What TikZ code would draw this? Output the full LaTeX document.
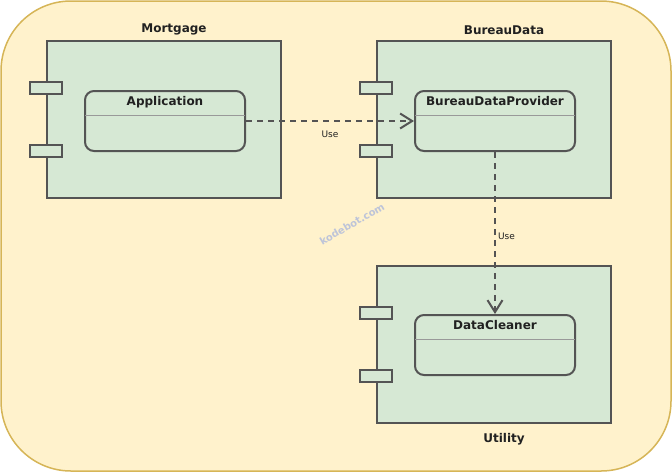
\documentclass[tikz,border=0pt]{standalone}
\usepackage{fontspec}
\setmainfont{DejaVu Sans}
\usepackage{pgf,tikz}
\usetikzlibrary{arrows.meta,positioning}
\definecolor{fff2cc}{rgb}{1,0.95,0.8}
\definecolor{d6b656}{rgb}{0.84,0.71,0.34}
\definecolor{d5e8d4}{rgb}{0.84,0.91,0.83}
\definecolor{qqqqgr}{rgb}{0.33,0.33,0.33}
\definecolor{qqtext}{rgb}{0.13,0.13,0.13}
\definecolor{sepgr}{rgb}{0.6,0.6,0.6}
\definecolor{wmblue}{rgb}{0.74,0.77,0.85}

\begin{document}
\begin{tikzpicture}[line cap=round,line join=round,>={Straight Barb[length=12pt,width=15pt]},x=1pt,y=-1pt,
  comp/.style={draw=qqqqgr,fill=d5e8d4,line width=2pt,line cap=butt,line join=miter,minimum width=234pt,minimum height=157pt,inner sep=0pt},
  port/.style={draw=qqqqgr,fill=d5e8d4,line width=2pt,line cap=butt,line join=miter,minimum width=32pt,minimum height=12pt,inner sep=0pt},
  cls/.style={draw=qqqqgr,fill=d5e8d4,line width=2pt,rounded corners=9pt,minimum width=160pt,minimum height=60pt,inner sep=0pt},
  ctitle/.style={font=\fontsize{12}{14}\selectfont\bfseries,text=qqtext,inner sep=0pt},
  sep/.style={draw=sepgr,line width=0.8pt,line cap=butt},
  use/.style={->,draw=qqqqgr,line width=2pt,line cap=butt,dash pattern=on 6pt off 5pt},
  uselbl/.style={font=\fontsize{9}{10}\selectfont,text=qqtext,inner sep=0pt}]
      \useasboundingbox (0,0) rectangle (672,472);
      \draw [draw=d6b656,fill=fff2cc,line width=1.5pt,rounded corners=70pt] (1,1) rectangle (671,471);
      % components
      \node[comp] (mortgage) at (164,119.5) {};
      \node[comp] (bureau) at (494,119.5) {};
      \node[comp] (utility) at (494,344) {};
      \foreach \c in {mortgage,bureau,utility}
      {
        \node[port] (\c-p1) at ([yshift=31.5pt]\c.west) {};
        \node[port] (\c-p2) at ([yshift=-31.5pt]\c.west) {};
      }
      \node[ctitle,above=5pt of mortgage.north,xshift=10pt] (mortgagetxt) {Mortgage};
      \node[ctitle,above=5pt of bureau.north,xshift=10pt] (bureautxt) {BureauData};
      \node[ctitle,below=10pt of utility.south,xshift=10pt] (utilitytxt) {Utility};
      % classes
      \node[cls] (app) at (165,121) {};
      \node[cls] (bdp) at (495,121) {};
      \node[cls] (dc) at (495,345) {};
      \node[ctitle,below=6pt of app.north] (apptxt) {Application};
      \node[ctitle,below=6pt of bdp.north] (bdptxt) {BureauDataProvider};
      \node[ctitle,below=6pt of dc.north] (dctxt) {DataCleaner};
      \foreach \k in {app,bdp,dc}
      \draw[sep] ([xshift=1pt,yshift=-25pt]\k.north west) -- ([xshift=-1pt,yshift=-25pt]\k.north east);
      % dependencies
      \draw[use] (app.east) -- node[uselbl,below=9pt] (use1) {Use} (bdp.west);
      \draw[use] (bdp.south) -- node[uselbl,right=2pt,pos=0.52] (use2) {Use} (dc.north);
      \node[font=\fontsize{10}{12}\selectfont\bfseries,text=wmblue,rotate=30,inner sep=0pt] (wm) at (352,224) {kodebot.com};
\end{tikzpicture}
\end{document}
